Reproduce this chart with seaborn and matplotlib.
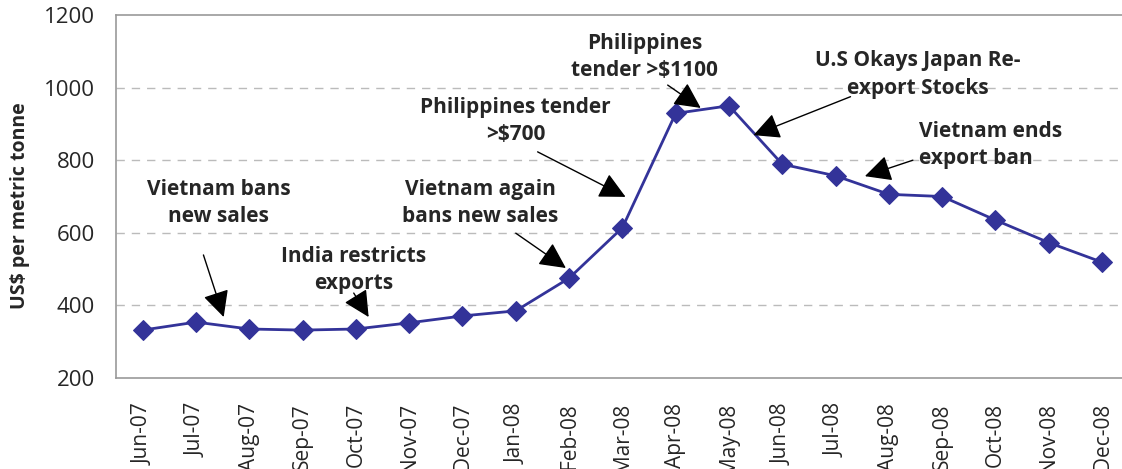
import pandas as pd
import matplotlib
matplotlib.use('Agg')
import matplotlib.pyplot as plt
import seaborn as sns

months = ['Jun-07', 'Jul-07', 'Aug-07', 'Sep-07', 'Oct-07', 'Nov-07', 'Dec-07',
          'Jan-08', 'Feb-08', 'Mar-08', 'Apr-08', 'May-08', 'Jun-08', 'Jul-08',
          'Aug-08', 'Sep-08', 'Oct-08', 'Nov-08', 'Dec-08']
prices = [332, 354, 335, 332, 335, 352, 371, 385, 475, 614, 929, 950,
          789, 757, 706, 700, 635, 573, 519]

# event notes: text, text position, arrow tail, arrow tip (data coords)
notes = ['Vietnam bans\nnew sales', 'India restricts\nexports', 'Vietnam again\nbans new sales',
         'Philippines tender\n>$700', 'Philippines\ntender >$1100',
         'U.S Okays Japan Re-\nexport Stocks', 'Vietnam ends\nexport ban']
note_xy = [(1.43, 682), (3.96, 497), (6.34, 682), (7.0, 908), (9.42, 1084), (14.54, 1036), (14.56, 842)]
tails = [(1.14, 539), (3.96, 434), (7.0, 599), (7.41, 823), (9.85, 1007), (13.28, 975), (14.45, 800)]
tips = [(1.52, 368), (4.24, 368), (7.94, 503), (9.06, 699), (10.47, 944), (11.46, 869), (13.55, 756)]

sns.set_style('white')
plt.rcParams['font.family'] = ['Open Sans', 'DejaVu Sans']

df = pd.DataFrame({'pos': range(len(months)), 'price': prices})

fig = plt.figure(figsize=(11.22, 4.69), dpi=100)
ax = fig.add_axes([0.1034, 0.194, 0.9026, 0.774])
sns.lineplot(data=df, x='pos', y='price', ax=ax, color='#333399', lw=2,
             marker='D', markersize=10, markeredgecolor='#333399')

ax.set_xlim(-0.5, len(months) - 0.5)
ax.set_ylim(200, 1200)
ax.set_yticks(range(200, 1201, 200))
ax.set_xticks(range(len(months)))
ax.set_xticklabels(months, rotation=90, fontsize=15)
ax.set_xticks([i - 0.5 for i in range(len(months) + 1)], minor=True)
ax.tick_params(axis='x', which='major', length=0, pad=18)
ax.tick_params(axis='x', which='minor', length=7, color='#999999', width=1)
ax.tick_params(axis='y', length=7, color='#999999', labelsize=16, pad=8)
ax.set_xlabel('')
ax.set_ylabel('US$ per metric tonne', fontsize=14, fontweight='bold')
ax.yaxis.set_label_coords(-0.085, 0.474)

for v in [400, 600, 800, 1000]:
    ax.axhline(v, color='#bbbbbb', lw=1, ls=(0, (6, 5)), zorder=0)
ax.spines['right'].set_visible(False)
for s in ['left', 'bottom', 'top']:
    ax.spines[s].set_color('#999999')
    ax.spines[s].set_linewidth(1.2)

for i, t in enumerate(notes):
    ha = 'left' if i == 6 else 'center'
    ax.text(note_xy[i][0], note_xy[i][1], t, ha=ha, va='center', fontsize=15,
            fontweight='bold', linespacing=1.4, multialignment=ha)
    ax.annotate('', xy=tips[i], xytext=tails[i],
                arrowprops=dict(arrowstyle='-|>,head_length=0.9,head_width=0.45',
                                mutation_scale=18, lw=1, color='black',
                                shrinkA=0, shrinkB=0))

fig.savefig('out.png', dpi=100)
